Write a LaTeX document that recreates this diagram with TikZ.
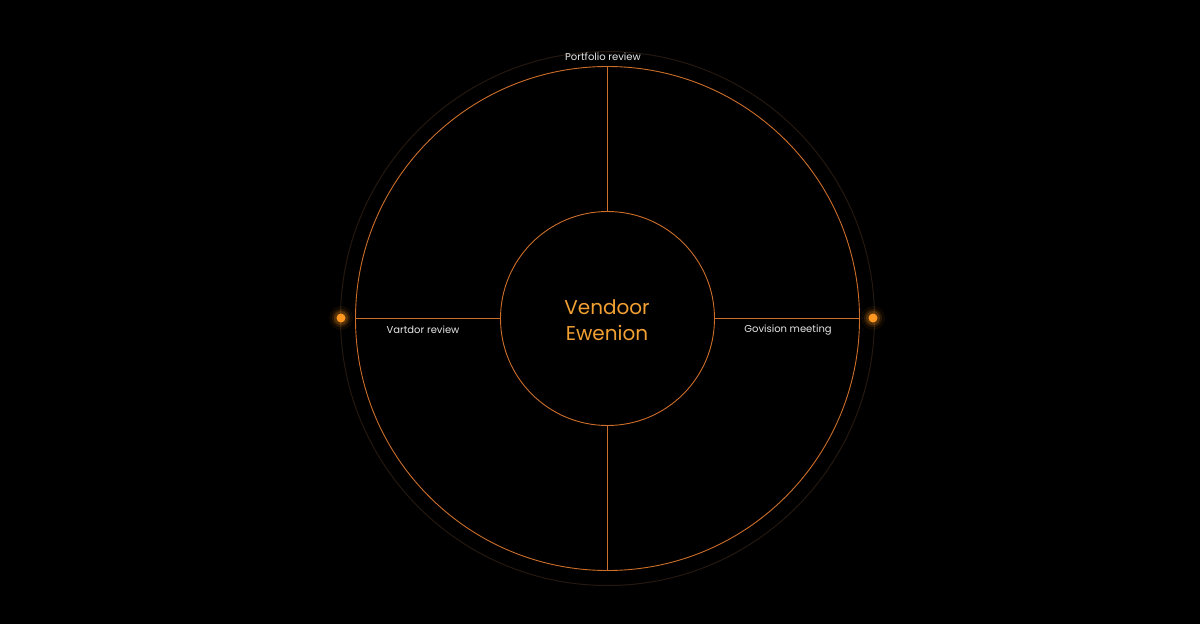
\documentclass[tikz,border=0pt]{standalone}
\usepackage{fontspec}
\setmainfont{Poppins}
\definecolor{ring}{HTML}{CC6E2A}
\definecolor{faint}{HTML}{24180F}
\definecolor{dotc}{HTML}{FF9820}
\definecolor{ctext}{HTML}{F2A033}
\definecolor{ltext}{HTML}{E6E6E6}
\begin{document}
\begin{tikzpicture}[x=1pt,y=-1pt,
  ringline/.style={draw=ring,line width=0.9pt},
  spoke/.style={draw=ring,line width=1.2pt},
  lbl/.style={text=ltext,font=\fontsize{10}{12}\selectfont,inner sep=0pt},
  glowdot/.style={circle,fill=dotc,minimum size=9pt,inner sep=0pt}]
\fill[black] (0,0) rectangle (1200,624);
\useasboundingbox (0,0) rectangle (1200,624);
\coordinate (c) at (607.5,318.5);
\draw[faint,line width=1pt] (c) circle[radius=267];
\node[circle,ringline,minimum size=504pt,inner sep=0pt] (outer) at (c) {};
\node[circle,ringline,minimum size=214pt,inner sep=0pt] (inner) at (c) {};
\node[text=ctext,font=\fontsize{20}{26}\selectfont,align=center,inner sep=0pt] (ctitle) at (607,320) {Vendoor\\Ewenion};
\draw[spoke] (inner.north) -- (outer.north);
\draw[spoke] (inner.south) -- (outer.south);
\draw[spoke] (inner.west) -- (outer.west);
\draw[spoke] (inner.east) -- (outer.east);
\foreach \r/\o in {12/0.06,9/0.12,7/0.2} {
  \fill[dotc,opacity=\o] (341,318) circle[radius=\r];
  \fill[dotc,opacity=\o] (873,318) circle[radius=\r];
}
\node[glowdot] (dl) at (341,318) {};
\node[glowdot] (dr) at (873,318) {};
\node[lbl] (top) at (603,57) {Portfolio review};
\node[lbl] (left) at (423,330) {Vartdor review};
\node[lbl] (right) at (788,330) {Govision meeting};
\end{tikzpicture}
\end{document}
